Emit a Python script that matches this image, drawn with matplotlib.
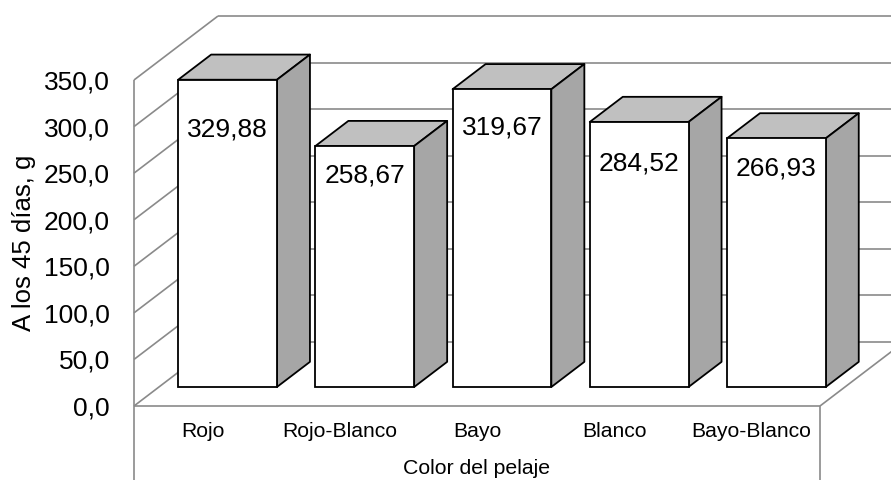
import matplotlib
matplotlib.use("Agg")
import matplotlib.pyplot as plt
import matplotlib.transforms as mtransforms
from matplotlib.patches import Polygon

# Weight at 45 days by coat colour
categories = ["Rojo", "Rojo-Blanco", "Bayo", "Blanco", "Bayo-Blanco"]
weights = [329.88, 258.67, 319.67, 284.52, 266.93]
y_ticks = [0, 50, 100, 150, 200, 250, 300, 350]
y_label = "A los 45 días, g"
x_title = "Color del pelaje"

# Layout / style (pixels at 100 dpi)
W, H, DPI = 891, 480, 100
DX, DY = 84, 64                  # oblique offset of the full floor depth
BAR_FRONT, BAR_BACK = 0.297, 0.69  # bar depth range as fraction of floor depth
BAR_WIDTH = 0.72
label_drop = [57, 36, 45, 49, 37]  # bar top -> label baseline
WALL = "#8a8a8a"
TOP_FC = "#c0c0c0"
SIDE_FC = "#a6a6a6"

plt.rcParams["font.family"] = ["Liberation Sans", "DejaVu Sans"]

fig = plt.figure(figsize=(W / DPI, H / DPI), dpi=DPI, facecolor="white")
ax = fig.add_axes([134 / W, (H - 406) / H, 686 / W, 326 / H])
n = len(categories)
ax.set_xlim(-0.5, n - 0.5)
ax.set_ylim(y_ticks[0], y_ticks[-1])
ax.patch.set_visible(False)
for s in ax.spines.values():
    s.set_visible(False)


def proj(x, v, d):
    """Data point (x, v) pushed back by depth fraction d."""
    px, py = ax.transData.transform((x, v))
    return ax.transData.inverted().transform((px + DX * d, py + DY * d))


def seg(p, q, **kw):
    ax.plot([p[0], q[0]], [p[1], q[1]], color=WALL, lw=1.2,
            clip_on=False, zorder=1, solid_capstyle="butt", **kw)


x_left, x_right = -0.5, n - 0.5
# back wall and left wall gridlines
for t in y_ticks:
    seg(proj(x_left, t, 1), proj(x_right, t, 1))
    seg(proj(x_left, t, 0), proj(x_left, t, 1))
# wall / floor edges
seg(proj(x_left, 0, 0), proj(x_left, y_ticks[-1], 0))
seg(proj(x_left, 0, 0), proj(x_right, 0, 0))
seg(proj(x_right, 0, 0), proj(x_right, 0, 1))
# category frame below the floor
seg((x_left, 0), (x_left, -120))
seg((x_right, 0), (x_right, -120))

# 3D columns
for i, v in enumerate(weights):
    x0, x1 = i - BAR_WIDTH / 2, i + BAR_WIDTH / 2
    top = [proj(x0, v, BAR_FRONT), proj(x1, v, BAR_FRONT),
           proj(x1, v, BAR_BACK), proj(x0, v, BAR_BACK)]
    side = [proj(x1, 0, BAR_FRONT), proj(x1, v, BAR_FRONT),
            proj(x1, v, BAR_BACK), proj(x1, 0, BAR_BACK)]
    for verts, fc in ((top, TOP_FC), (side, SIDE_FC)):
        ax.add_patch(Polygon(verts, closed=True, fc=fc, ec="black",
                             lw=1.3, joinstyle="round", clip_on=False, zorder=4))

front_tr = ax.transData + mtransforms.Affine2D().translate(DX * BAR_FRONT, DY * BAR_FRONT)
ax.bar(range(n), weights, width=BAR_WIDTH, color="white", edgecolor="black",
       linewidth=1.3, transform=front_tr, clip_on=False, zorder=5)

for i, (v, drop) in enumerate(zip(weights, label_drop)):
    ax.annotate(f"{v:.2f}".replace(".", ","), xy=(i, v),
                xytext=(DX * BAR_FRONT, DY * BAR_FRONT - drop),
                textcoords="offset pixels", ha="center", va="baseline",
                fontsize=19, zorder=6)

ax.set_yticks(y_ticks, labels=[f"{t:.1f}".replace(".", ",") for t in y_ticks])
ax.tick_params(axis="y", length=0, pad=24 * 72 / DPI, labelsize=19)
ax.set_xticks(range(n), labels=categories)
ax.tick_params(axis="x", length=0, pad=16 * 72 / DPI, labelsize=15.2)

fig.text(24 / W, 1 - 242.5 / H, y_label, rotation=90, ha="center",
         va="center", fontsize=18.5)
fig.text(477 / W, 1 - 474 / H, x_title, ha="center", va="baseline", fontsize=15.3)

fig.savefig("out.png", dpi=DPI, facecolor="white")
